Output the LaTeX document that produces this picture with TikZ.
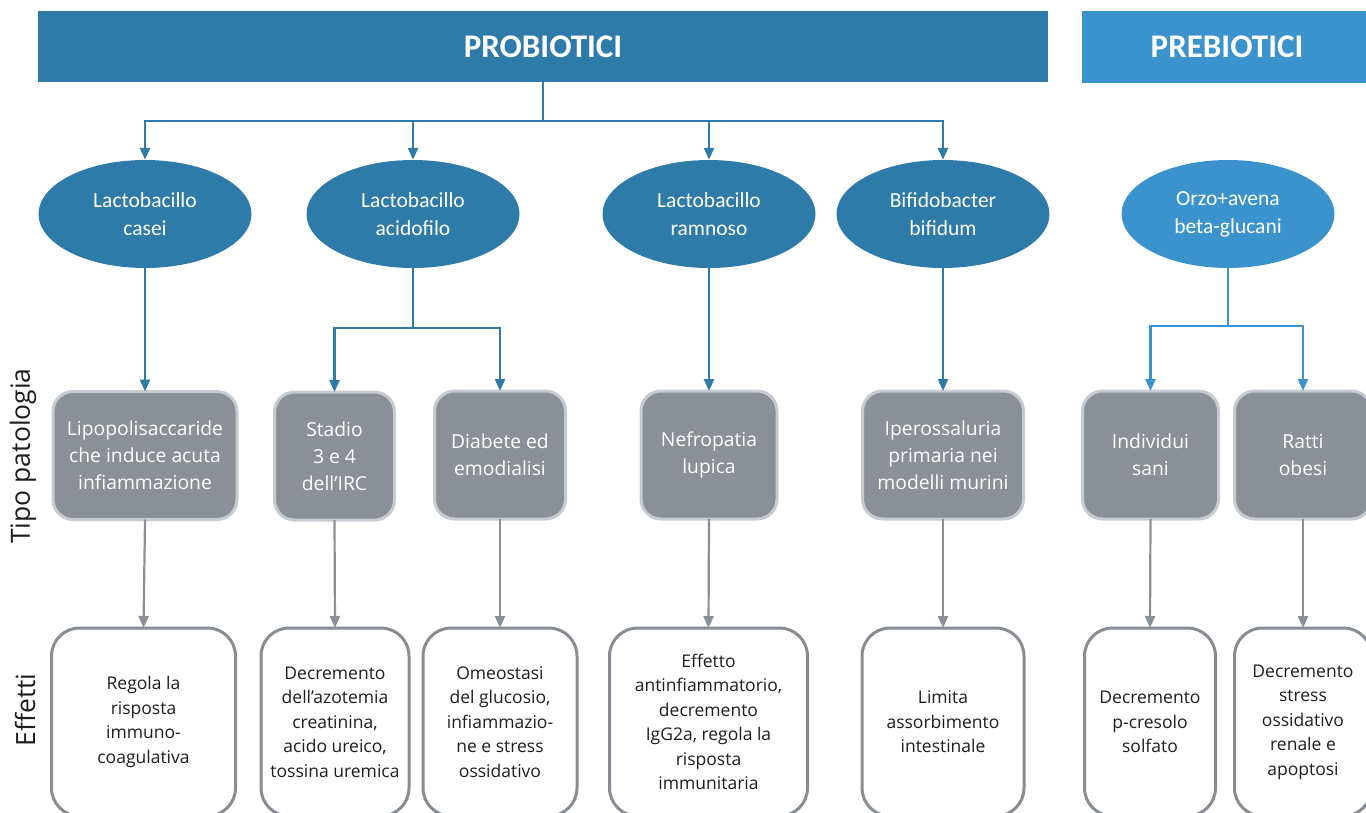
\documentclass[tikz,border=0pt]{standalone}
\usepackage{fontspec}
\setmainfont{Open Sans}
\newfontfamily\calfont{Carlito}
\usetikzlibrary{shapes.geometric,arrows.meta}
\definecolor{pro}{HTML}{2E7BAA}
\definecolor{pre}{HTML}{3A93CD}
\definecolor{gfill}{HTML}{8A9096}
\definecolor{gborder}{HTML}{C6CBD1}
\definecolor{eborder}{HTML}{878D93}
\definecolor{txt}{HTML}{1E1E1E}
\begin{document}
\begin{tikzpicture}[x=1pt,y=-1pt,
  banner/.style={rectangle,inner sep=0pt,text=white,font=\calfont\bfseries\fontsize{33}{36}\selectfont},
  oval/.style={ellipse,inner sep=0pt,minimum width=213pt,minimum height=108pt,fill=pro,text=white,align=center,font=\calfont\fontsize{21.5}{28}\selectfont},
  gbox/.style={rectangle,rounded corners=20pt,inner sep=0pt,fill=gfill,draw=gborder,line width=3pt,minimum height=128pt,text=white,align=center,font=\fontsize{19.3}{27}\selectfont},
  ebox/.style={rectangle,rounded corners=28pt,inner sep=0pt,fill=white,draw=eborder,line width=3pt,minimum height=188pt,text=txt,align=center,font=\fontsize{17.5}{24.5}\selectfont},
  barrow/.style={draw=pro,line width=2.4pt,-{Triangle[length=12pt,width=10pt]}},
  bline/.style={draw=pro,line width=2.4pt},
  garrow/.style={draw=gfill,line width=2.2pt,-{Triangle[length=12pt,width=10pt]}},
  side/.style={text=txt,rotate=90,font=\fontsize{26.5}{30}\selectfont}
]
\useasboundingbox (0,0) rectangle (1366,812);
% banners
\node[banner,fill=pro,minimum width=1010pt,minimum height=71pt] (pro) at (543,46.5) {PROBIOTICI};
\node[banner,fill=pre,minimum width=290pt,minimum height=72pt] (pre) at (1227,47) {PREBIOTICI};
% ellipses
\node[oval] (casei) at (145,214) {Lactobacillo\\casei};
\node[oval] (acido) at (413,214) {Lactobacillo\\acidofilo};
\node[oval] (ramno) at (709,214) {Lactobacillo\\ramnoso};
\node[oval] (bifi) at (943,214) {Bifidobacter\\bifidum};
\node[oval,fill=pre] (orzo) at (1228,214) {Orzo+avena\\beta-glucani};
% grey boxes
\node[gbox,minimum width=184pt] (lps) at (145,455.5) {Lipopolisaccaride\\che induce acuta\\infiammazione};
\node[gbox,minimum width=120pt] (stadio) at (334.5,456) {Stadio\\3 e 4\\dell’IRC};
\node[gbox,minimum width=131pt] (diab) at (500,455) {Diabete ed\\emodialisi};
\node[gbox,minimum width=136pt] (nefro) at (709,455) {Nefropatia\\lupica};
\node[gbox,minimum width=161pt] (ipero) at (943,455) {Iperossaluria\\primaria nei\\modelli murini};
\node[gbox,minimum width=136pt] (indiv) at (1150.5,455) {Individui\\sani};
\node[gbox,minimum width=137pt] (ratti) at (1303,455) {Ratti\\obesi};
% effect boxes
\node[ebox,minimum width=184pt] (regola) at (143.5,722) {Regola la\\risposta\\immuno-\\coagulativa};
\node[ebox,minimum width=148pt] (decr) at (335,722) {Decremento\\dell’azotemia\\creatinina,\\acido ureico,\\tossina uremica};
\node[ebox,minimum width=154pt] (omeo) at (500,722) {Omeostasi\\del glucosio,\\infiammazio-\\ne e stress\\ossidativo};
\node[ebox,minimum width=198pt] (effetto) at (708.5,722) {Effetto\\antinfiammatorio,\\decremento\\IgG2a, regola la\\risposta\\immunitaria};
\node[ebox,minimum width=162pt] (limita) at (943,722) {Limita\\assorbimento\\intestinale};
\node[ebox,minimum width=131pt] (pcres) at (1150,722) {Decremento\\p-cresolo\\solfato};
\node[ebox,minimum width=137pt] (stress) at (1303,722) {Decremento\\stress\\ossidativo\\renale e\\apoptosi};
% side labels
\node[side] (tipo) at (23,456) {Tipo patologia};
\node[side] (eff) at (25,710) {Effetti};
% blue connectors
\coordinate (hub) at (543,121);
\draw[bline] (pro.south) -- (hub);
\draw[barrow] (hub) -| (casei.north);
\draw[barrow] (hub) -| (acido.north);
\draw[barrow] (hub) -| (ramno.north);
\draw[barrow] (hub) -| (bifi.north);
\draw[barrow] (casei.south) -- ([yshift=-1.5pt]lps.north);
\coordinate (hubA) at (413,328);
\draw[bline] (acido.south) -- (hubA);
\draw[barrow] (hubA) -| ([yshift=-1.5pt]stadio.north);
\draw[barrow] (hubA) -| ([yshift=-1.5pt]diab.north);
\draw[barrow] (ramno.south) -- ([yshift=-1.5pt]nefro.north);
\draw[barrow] (bifi.south) -- ([yshift=-1.5pt]ipero.north);
\coordinate (hubO) at (1228,326);
\draw[bline,draw=pre] (orzo.south) -- (hubO);
\draw[barrow,draw=pre] (hubO) -| ([yshift=-1.5pt]indiv.north);
\draw[barrow,draw=pre] (hubO) -| ([yshift=-1.5pt]ratti.north);
% grey connectors
\draw[garrow] ([yshift=1.5pt]lps.south) -- ([yshift=-1.5pt]regola.north);
\draw[garrow] ([yshift=1.5pt]stadio.south) -- ([yshift=-1.5pt]decr.north);
\draw[garrow] ([yshift=1.5pt]diab.south) -- ([yshift=-1.5pt]omeo.north);
\draw[garrow] ([yshift=1.5pt]nefro.south) -- ([yshift=-1.5pt]effetto.north);
\draw[garrow] ([yshift=1.5pt]ipero.south) -- ([yshift=-1.5pt]limita.north);
\draw[garrow] ([yshift=1.5pt]indiv.south) -- ([yshift=-1.5pt]pcres.north);
\draw[garrow] ([yshift=1.5pt]ratti.south) -- ([yshift=-1.5pt]stress.north);
\end{tikzpicture}
\end{document}
